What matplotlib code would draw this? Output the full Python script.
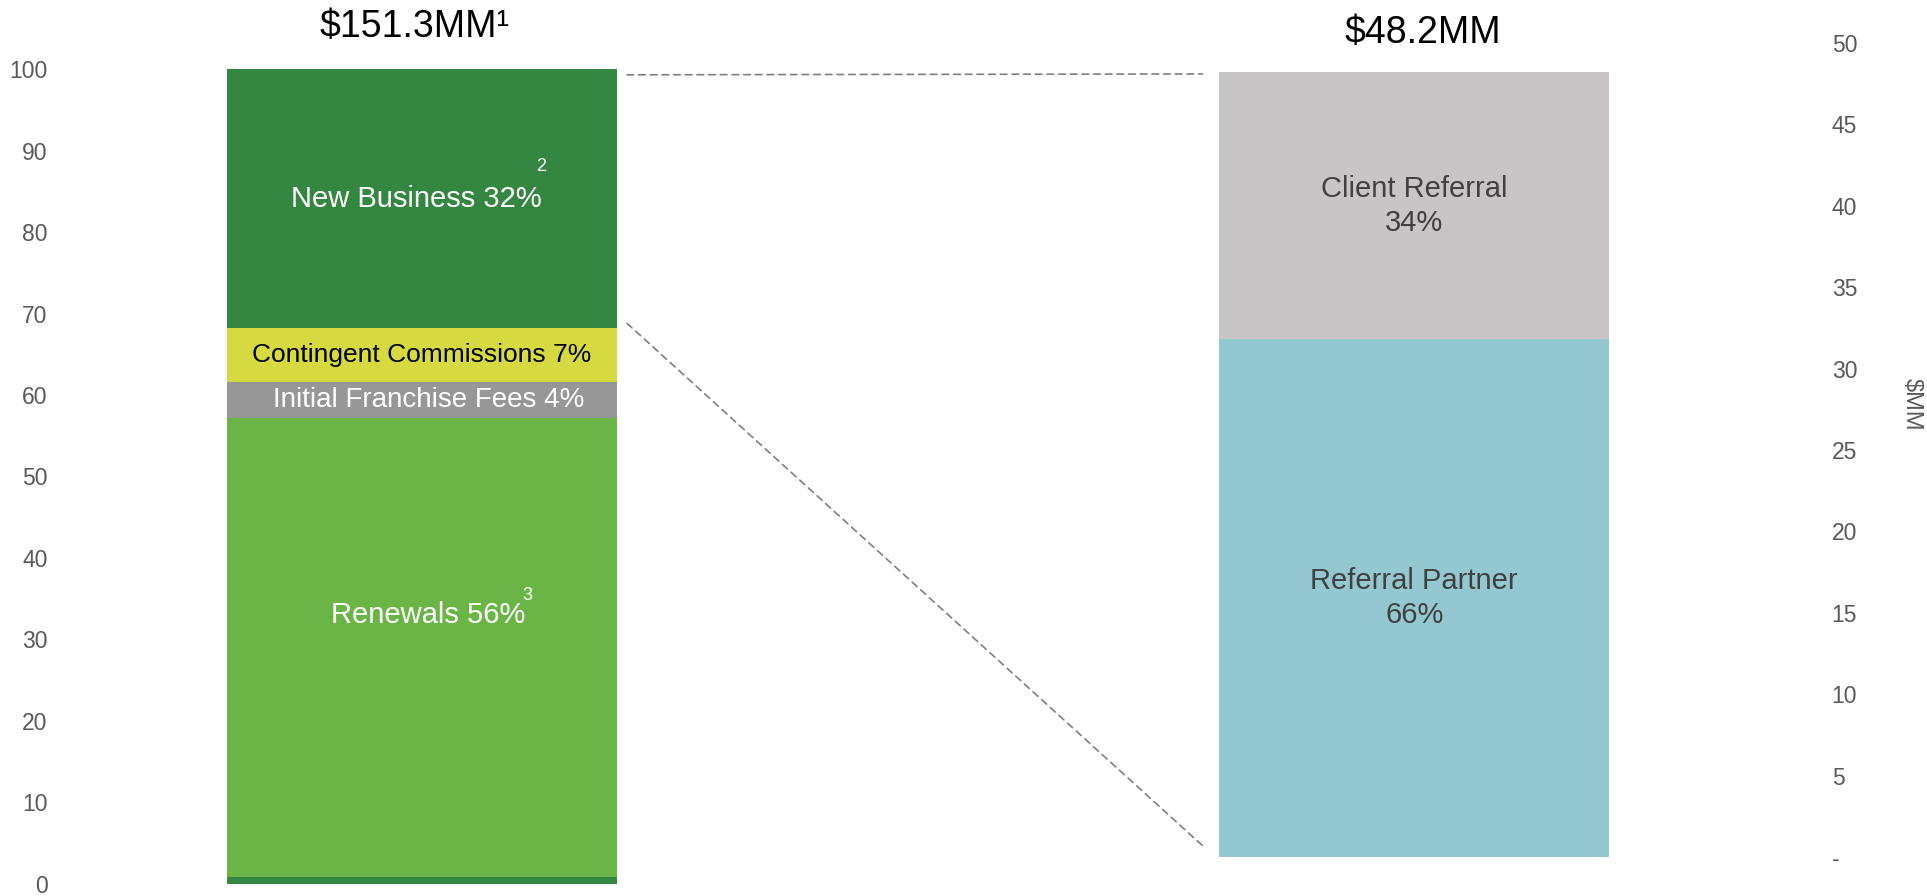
import matplotlib.pyplot as plt
from matplotlib.patches import ConnectionPatch

plt.rcParams['font.family'] = ['Liberation Sans', 'DejaVu Sans']

# left bar: share of revenue (stacked from bottom), $151.3MM total
left_names = ['Other', 'Renewals', 'Initial Franchise Fees', 'Contingent Commissions', 'New Business']
left_vals = [0.9, 56.3, 4.4, 6.6, 31.8]
left_pcts = ['', '56%', '4%', '7%', '32%']
left_colors = ['#348741', '#6BB546', '#979797', '#D6DA40', '#348741']
left_text_colors = ['white', 'white', 'white', 'black', 'white']

# right bar: $MM breakdown, $48.2MM total
right_names = ['Referral Partner', 'Client Referral']
right_vals = [31.8, 16.4]
right_pcts = ['66%', '34%']
right_colors = ['#94C8D1', '#C9C4C5']

left_title = '$151.3MM\u00b9'
right_title = '$48.2MM'
left_ticks = [0, 10, 20, 30, 40, 50, 60, 70, 80, 90, 100]
right_ticks = [0, 5, 10, 15, 20, 25, 30, 35, 40, 45, 50]
right_ticklabels = ['-'] + [str(t) for t in right_ticks[1:]]

fig = plt.figure(figsize=(19.27, 8.96), dpi=100)
ax = fig.add_axes([60 / 1927, 6 / 896, 1762 / 1927, 860 / 896])
ax2 = ax.twinx()

w = 0.393
bottom = 0
for v, c in zip(left_vals, left_colors):
    ax.bar(0, v, width=w, bottom=bottom, color=c, linewidth=0)
    bottom += v

bottom = 0
for v, c in zip(right_vals, right_colors):
    ax2.bar(1, v, width=w, bottom=bottom, color=c, linewidth=0)
    bottom += v

# segment labels
cum = [sum(left_vals[:i]) for i in range(len(left_vals))]
lab_y = {1: 33.0}
lab_x = {1: 0.006, 2: 0.007, 3: 0.0, 4: -0.006}
lab_fs = {1: 21, 2: 20, 3: 19, 4: 21}
for i in range(1, len(left_vals)):
    y = lab_y.get(i, cum[i] + left_vals[i] / 2)
    ax.text(lab_x[i], y, f'{left_names[i]} {left_pcts[i]}', ha='center', va='center',
            color=left_text_colors[i], fontsize=lab_fs[i])
ax.text(0.12, 88.0, '2', color='white', fontsize=13, ha='center', va='center')
ax.text(0.106, 35.4, '3', color='white', fontsize=13, ha='center', va='center')

rb = 0
for n, v, p in zip(right_names, right_vals, right_pcts):
    ax2.text(1, rb + v / 2, f'{n}\n{p}', ha='center', va='center',
             color='#404040', fontsize=21, linespacing=1.3)
    rb += v

ax.set_xlim(-0.365, 1.411)
ax.set_ylim(-0.75, 104.8)
ax2.set_ylim(-2.03, 50.8)

ax.set_yticks(left_ticks)
ax.set_yticklabels([str(t) for t in left_ticks])
ax2.set_yticks(right_ticks)
ax2.set_yticklabels(right_ticklabels)
ax.set_xticks([])
for a in (ax, ax2):
    for s in a.spines.values():
        s.set_visible(False)
    a.tick_params(axis='y', length=0, labelsize=16.5, colors='#595959', pad=9)
ax2.tick_params(axis='y', pad=7)
ax2.set_ylabel('$MM', rotation=270, fontsize=17, color='#595959')
ax2.yaxis.set_label_coords(1.057, 0.565)

# connector lines
x_l = 0 + w / 2 + 0.01
x_r = 1 - w / 2 - 0.017
for yl, yr in [(99.3, 48.1), (68.8, 0.7)]:
    con = ConnectionPatch(xyA=(x_l, yl), coordsA=ax.transData,
                          xyB=(x_r, yr), coordsB=ax2.transData,
                          linestyle=(0, (4, 3)), color='#7F7F7F', linewidth=1.2)
    fig.add_artist(con)

fig.text(415 / 1927, 1 - 27 / 896, left_title, ha='center', va='center', fontsize=27, color='black')
fig.text(1423 / 1927, 1 - 33 / 896, right_title, ha='center', va='center', fontsize=27, color='black')

fig.savefig('out.png', dpi=100)
